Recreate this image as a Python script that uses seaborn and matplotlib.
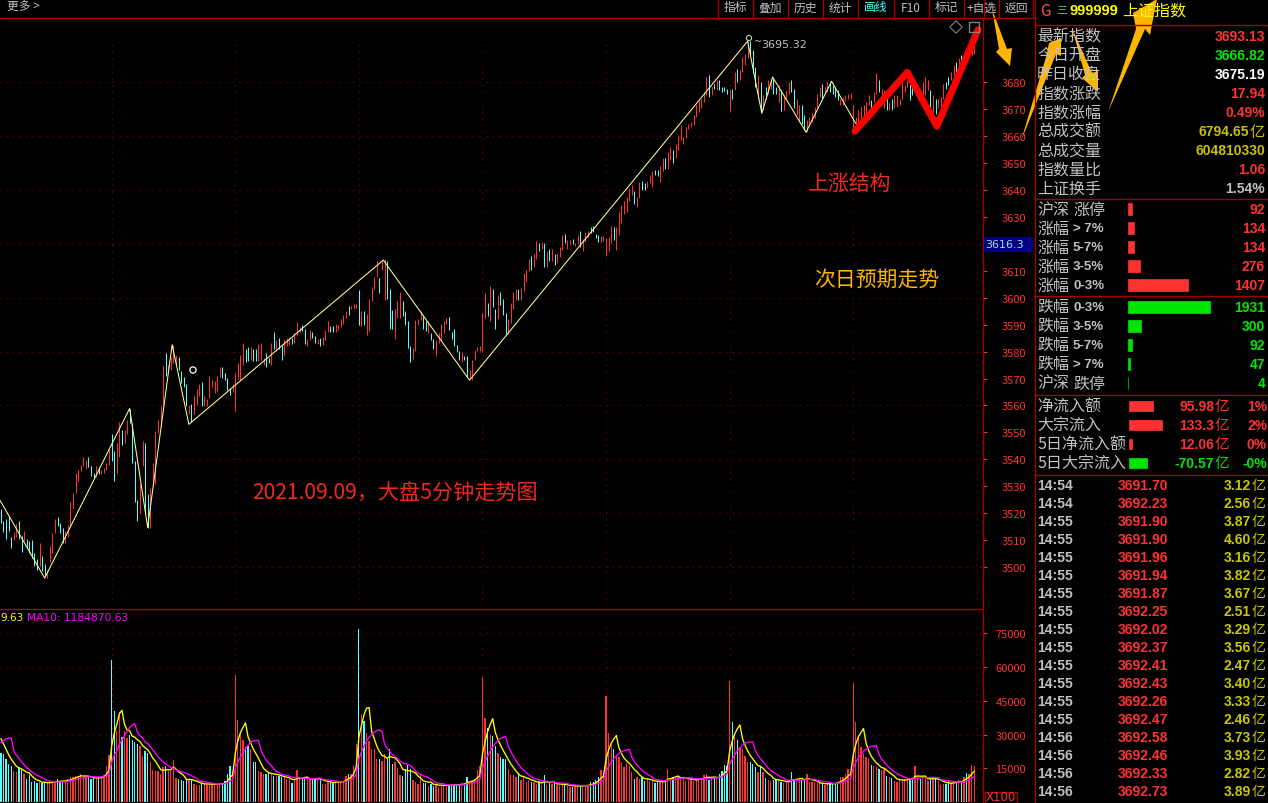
import numpy as np
import pandas as pd
import matplotlib
matplotlib.use("Agg")
import matplotlib.pyplot as plt
from matplotlib.patches import Polygon, Rectangle
import seaborn as sns

# 5 minute candles, ten per row
candle_low = [
    3516.5, 3513, 3510.6, 3513.4, 3507, 3510, 3511, 3510.3, 3505.6, 3509.7,
    3507.2, 3505.4, 3503.5, 3500.4, 3499, 3500.4, 3498.6, 3496.7, 3496, 3501.7,
    3505.4, 3512.5, 3515.3, 3512.5, 3509, 3509, 3511, 3515.3, 3522, 3527.4,
    3532, 3535.6, 3537.7, 3536.6, 3537.2, 3533.8, 3533.2, 3533.5, 3534.4, 3534.4,
    3535, 3536, 3538, 3539.3, 3532, 3534.8, 3541, 3545.5, 3546, 3549.5,
    3553.5, 3538.7, 3524, 3517, 3520, 3537.7, 3519.6, 3514.6, 3514.6, 3530,
    3530.7, 3549.9, 3552, 3559.7, 3570.8, 3573, 3573.3, 3575.8, 3575, 3573,
    3568.4, 3567, 3559.7, 3557, 3553.8, 3557, 3560.3, 3563.4, 3559.7, 3559.7,
    3559.7, 3562.8, 3567, 3564.6, 3565.3, 3570.6, 3570.2, 3569.6, 3565.9, 3564,
    3565, 3557.9, 3569.7, 3569.4, 3575.2, 3576.2, 3576.4, 3577, 3576.4, 3576.4,
    3576.4, 3577, 3575.2, 3574.3, 3575.8, 3575.2, 3580.8, 3580.1, 3580.8, 3576.8,
    3578.9, 3582, 3582.6, 3583, 3583.2, 3586, 3587.2, 3587.6, 3582.9, 3582.2,
    3584.2, 3585.1, 3583.2, 3583, 3582.2, 3582.6, 3584.2, 3587.2, 3587.2, 3587.2,
    3587.2, 3588.2, 3589.2, 3590.4, 3592.5, 3593.7, 3595.8, 3595.8, 3596.2, 3590,
    3589.7, 3590, 3586.3, 3587.6, 3598.7, 3603.2, 3607.7, 3601.8, 3610.4, 3599.3,
    3599.5, 3588.5, 3588.5, 3584.8, 3592.5, 3592.5, 3593.1, 3590, 3581.4, 3576,
    3577.4, 3580.1, 3590, 3591.9, 3588.4, 3587.6, 3587, 3584.2, 3580.8, 3578.3,
    3583.2, 3584.4, 3587, 3590.4, 3587.9, 3584.8, 3582, 3579.7, 3576.8, 3576,
    3577, 3570.6, 3569.9, 3569.6, 3577, 3580.1, 3580.4, 3580.1, 3592.5, 3593.3,
    3591.2, 3596.5, 3588.4, 3592.2, 3597.4, 3593.7, 3586.7, 3586.7, 3590.6, 3595.8,
    3599.3, 3599.3, 3599.3, 3602.7, 3606.3, 3610, 3610.4, 3611.6, 3614.3, 3617.2,
    3618.1, 3611.6, 3611.6, 3613.8, 3613.8, 3612.2, 3612.8, 3615, 3617.8, 3620.2,
    3618.1, 3620, 3620, 3619.3, 3620, 3619, 3617.2, 3620.9, 3622.7, 3624.2,
    3624.6, 3622.1, 3620.9, 3620.9, 3621.1, 3615.5, 3617.2, 3620.5, 3621.5, 3617.8,
    3623.3, 3627.6, 3631.1, 3632, 3636, 3638.1, 3634.8, 3633.8, 3636.9, 3640,
    3640, 3640.6, 3642.5, 3641.2, 3645.5, 3645.2, 3643, 3647, 3648, 3648,
    3651, 3650, 3652, 3655, 3658.6, 3657, 3659.2, 3662.5, 3663.3, 3664.1,
    3667, 3669, 3670.3, 3672.8, 3675.2, 3674.6, 3675.2, 3677.5, 3677.3, 3677.3,
    3676.5, 3676.7, 3675.8, 3669.3, 3674, 3677.1, 3680.2, 3681, 3683.9, 3686.3,
    3689.2, 3690, 3683.3, 3678.3, 3674, 3669, 3669.7, 3674, 3675.8, 3677.7,
    3675.8, 3675.8, 3672.8, 3669.4, 3669.7, 3673.4, 3675.8, 3676.5, 3670.3, 3667.8,
    3665.3, 3664.7, 3662.3, 3661.6, 3664, 3665.3, 3666.6, 3670.3, 3674.6, 3673.7,
    3675.8, 3676.5, 3676.5, 3675.8, 3674.6, 3673.4, 3671.5, 3671.5, 3673.1, 3674,
    3674, 3661, 3662.9, 3664.1, 3666, 3667, 3668.4, 3671.5, 3670.3, 3672.8,
    3675.8, 3676.5, 3672.8, 3670.3, 3669.7, 3669.7, 3669.7, 3670.3, 3670.9, 3671.5,
    3674, 3676.5, 3678.3, 3673.4, 3675.2, 3677.7, 3675.2, 3673.4, 3674, 3675.2,
    3677, 3670.9, 3667.8, 3668.4, 3670.3, 3670.9, 3674, 3677.7, 3679, 3680.8,
    3682.6, 3683.9, 3685, 3686, 3687, 3688.5, 3689.5, 3690, 3690.5,
]
candle_high = [
    3521.4, 3517, 3518, 3519, 3511, 3513, 3516, 3517, 3511.6, 3513.4,
    3510.3, 3509.7, 3510, 3505.4, 3503, 3509, 3504, 3501, 3499, 3508,
    3512.8, 3518, 3518.6, 3516.3, 3514.4, 3513.4, 3515.5, 3524, 3527.4, 3535,
    3535.9, 3538, 3541, 3539.7, 3541, 3537.7, 3535, 3537.7, 3537, 3536,
    3536.9, 3538.5, 3543.7, 3549.6, 3543, 3545.9, 3554, 3551, 3551, 3554.8,
    3558.7, 3553.5, 3539.3, 3525, 3530.7, 3546.7, 3546, 3527, 3529.5, 3538.7,
    3550.4, 3554.8, 3559.7, 3574.8, 3579.5, 3575, 3578, 3582.5, 3578.8, 3578,
    3572.7, 3570.4, 3568, 3560.3, 3560.7, 3563.7, 3566, 3568, 3568.7, 3563.5,
    3562.5, 3570.8, 3569.6, 3569, 3570.8, 3574.3, 3574.3, 3572, 3570.2, 3566.5,
    3568, 3572, 3575.8, 3578.9, 3583.2, 3581.1, 3581.8, 3581.8, 3580.8, 3580.8,
    3582.9, 3583.2, 3577.7, 3579.5, 3577.7, 3583.2, 3587.2, 3584.5, 3585.1, 3582.6,
    3584.5, 3585.1, 3585.5, 3585.1, 3587, 3590.9, 3589.2, 3590, 3588.4, 3584.7,
    3588.2, 3587.2, 3585.7, 3584.7, 3585.1, 3585.5, 3587.9, 3591.5, 3589.7, 3589.7,
    3590.4, 3590, 3592.1, 3593.5, 3595.2, 3596.8, 3596.8, 3597.7, 3597.8, 3603,
    3595, 3595.2, 3594.1, 3599.5, 3604, 3607.7, 3613.5, 3607.3, 3613.8, 3614.5,
    3613.5, 3603.2, 3595.3, 3595.8, 3598.7, 3602, 3598.7, 3595, 3591.5, 3582.2,
    3581.4, 3591.9, 3592.1, 3595, 3593.1, 3591.5, 3591.3, 3587, 3584.7, 3584.5,
    3587, 3590.4, 3591.5, 3592.5, 3593, 3587.3, 3588.4, 3582.6, 3580.1, 3579.7,
    3578.5, 3578.5, 3573.3, 3577, 3580.7, 3581.7, 3582, 3594.3, 3601.7, 3598,
    3604.2, 3603.2, 3595.8, 3601.1, 3602.3, 3599.5, 3594.3, 3592.2, 3598, 3602.3,
    3603.3, 3603.3, 3603.6, 3609.1, 3610.4, 3614.4, 3615.5, 3616.3, 3621, 3620.2,
    3620.6, 3620.5, 3617.4, 3618, 3618.3, 3616.3, 3616.8, 3618.8, 3623.3, 3623.7,
    3621.5, 3621.5, 3621.9, 3620.2, 3623.3, 3624.8, 3622, 3624.6, 3624.8, 3626.2,
    3626.7, 3623.7, 3623.3, 3623, 3623.1, 3622.1, 3622.7, 3626.7, 3626.2, 3626.4,
    3632, 3634.4, 3635.9, 3637.3, 3640.6, 3641.8, 3639.7, 3637.3, 3643.1, 3643.3,
    3642.8, 3643.3, 3645.5, 3647.2, 3647.4, 3647.3, 3649, 3652, 3652, 3654,
    3656, 3655, 3657, 3660, 3664.1, 3659.8, 3663.5, 3664.7, 3665.3, 3667.8,
    3671.5, 3673.1, 3674, 3676.5, 3682, 3682.6, 3678.3, 3679.5, 3680.8, 3680.8,
    3678.3, 3678.3, 3677.7, 3677, 3677.7, 3683.9, 3685.1, 3684.5, 3689.4, 3690.4,
    3694.6, 3695.3, 3691.9, 3685.7, 3682.6, 3680.2, 3675.2, 3678.3, 3680.8, 3681.4,
    3681.4, 3678.3, 3678.9, 3677, 3675.2, 3677.3, 3680.2, 3681, 3677.7, 3674,
    3671.5, 3671.5, 3667.8, 3666, 3667.2, 3668.7, 3670.9, 3675.8, 3678.3, 3679.3,
    3678.3, 3680.2, 3680.2, 3679, 3678.3, 3677, 3674, 3674.6, 3675.2, 3675.8,
    3676.1, 3671.5, 3667.2, 3669.7, 3670.7, 3671.5, 3672.8, 3675.2, 3673.4, 3676.5,
    3683.3, 3680.8, 3677.7, 3677, 3675.2, 3672.8, 3674, 3675.2, 3675.2, 3674,
    3680.8, 3678.9, 3680.8, 3679.5, 3678.9, 3680.8, 3678.9, 3677.7, 3680.2, 3682,
    3680.8, 3677, 3675.2, 3674, 3674, 3674.6, 3679.5, 3680.1, 3682, 3683.9,
    3686.3, 3687.5, 3689, 3690, 3691, 3692, 3693, 3693.3, 3693.6,
]
# R rises, C falls, ten per block
candle_dir = (
    "CCCCCRRCCR" "CCCCCRCCRR" "RRCCCRRRRR" "RRRRCCCRCR"
    "RRRCCRRCRR" "CCCCRRCCRR" "RRRRCRRRRC" "CCCRCRRRCR"
    "RRRRRRCCCC" "RRRRRCCRCC" "RRRCCRCRCC" "RRRCRRRCCR"
    "RCCRCRRRCC" "RRRRRCRRRC" "RCRRRRRCRR" "CCCRRRCCCC"
    "RRRRCCRCCR" "RRRRCCCCCR" "CCRRRRRRRC" "RCCRCCCRRR"
    "RCRRRRCRRC" "RCRCRCRRRC" "RRCRRCRRRC" "CCCRRRRRCR"
    "RRRRRRCRRC" "CRRRCCRRCR" "RCRRRRRRRR" "RRRRRCRCRC"
    "CCCRCRCRRR" "RCCCRCRCRR" "CCRCRRRCCR" "RCCRRRRRRC"
    "RRCCCCRRRR" "RRRRRRRRCR" "RCRRCRCRRR" "RRRCCRRCRR"
    "RCRCRRRCCR" "RCRCRCRRR"
)
volume = [
    22000, 21300, 19100, 16900, 16100, 13900, 13500, 15400, 14700, 12400,
    10200, 12000, 8700, 9500, 8400, 8700, 8400, 9000, 8300, 8700,
    9000, 9000, 10200, 9000, 9000, 9500, 10200, 11300, 11000, 11700,
    11700, 12400, 11000, 11000, 11400, 10200, 10500, 10500, 11000, 11700,
    12000, 16100, 20800, 63100, 40600, 31700, 39800, 28700, 31700, 28400,
    29900, 27500, 26500, 25800, 25000, 20600, 22800, 22000, 17600, 14400,
    13900, 13900, 12400, 15400, 16100, 13900, 13900, 18600, 10600, 10200,
    9900, 9500, 10200, 10200, 10200, 8000, 7700, 7700, 8400, 8400,
    7700, 7500, 8000, 7700, 8000, 8400, 8300, 9500, 12400, 16100,
    13900, 56400, 36600, 31000, 27700, 24300, 25000, 23500, 17600, 17600,
    13900, 13200, 12400, 12400, 13200, 12400, 11700, 11700, 11400, 11000,
    11000, 10200, 10200, 8300, 9500, 14200, 10200, 10200, 10500, 10200,
    10200, 10500, 10200, 10500, 10200, 8000, 8000, 9500, 9000, 8700,
    8700, 9000, 9000, 9500, 11700, 12400, 12400, 16100, 25800, 76900,
    39100, 36100, 30600, 27200, 23500, 23500, 19100, 19100, 18400, 21300,
    19100, 23500, 16900, 17600, 15000, 12100, 11400, 14700, 16600, 14700,
    9800, 8700, 8000, 12000, 8400, 8400, 7300, 8000, 7300, 8000,
    6800, 7300, 7300, 8000, 7300, 7700, 7700, 7700, 7700, 8300,
    8400, 11000, 9000, 9500, 10200, 14200, 16100, 55700, 37300, 32700,
    30200, 29500, 25000, 21800, 20100, 19100, 19100, 14700, 12000, 12000,
    11300, 12400, 9800, 11300, 9000, 9900, 9000, 8700, 8000, 9000,
    7500, 12000, 7700, 8400, 8000, 8300, 7700, 7700, 7700, 7700,
    7300, 6800, 6800, 7300, 7300, 7300, 7100, 7300, 7700, 8700,
    9000, 9900, 11000, 14200, 12900, 46900, 30700, 25800, 23500, 20900,
    19900, 17600, 15700, 17300, 15800, 13200, 10200, 11000, 10200, 11000,
    9300, 10200, 9300, 9300, 8400, 9300, 9300, 8700, 9200, 14700,
    9800, 11300, 10700, 11300, 10200, 11000, 9500, 9900, 10200, 9500,
    10200, 10200, 10200, 12100, 12400, 9900, 10200, 11000, 11000, 12400,
    13600, 16400, 15800, 53900, 35400, 30200, 27500, 24300, 23500, 20600,
    17600, 17600, 16900, 15400, 13200, 16100, 13200, 10700, 9800, 9500,
    9800, 10200, 9900, 8700, 8400, 8700, 9000, 13200, 9900, 9500,
    10200, 9900, 9500, 12400, 9000, 8700, 8400, 8300, 8400, 8000,
    7500, 8300, 8300, 8300, 8400, 9000, 11000, 11000, 12400, 14700,
    13200, 52900, 35400, 28700, 24300, 22000, 19900, 19400, 16400, 15800,
    15400, 14700, 14400, 14700, 11400, 11000, 10500, 9500, 8700, 10200,
    9900, 10200, 10500, 10200, 10200, 15800, 11000, 10200, 10200, 10500,
    9500, 11000, 10500, 10200, 9500, 7700, 8000, 8000, 9500, 8400,
    8400, 9000, 9900, 9000, 11000, 12900, 12400, 16400, 15800,
]
# bars just left of the visible window, needed by the moving averages
volume_before = [12000, 12000, 13000, 16000, 70000, 33000, 31000, 29000, 26000]
day_starts = [43, 91, 139, 187, 235, 283, 331, 379]

zigzag_idx = [-0.35, 17, 50, 57, 66.5, 73, 148.5, 182, 290, 295.5, 299.7, 312.7, 322.6, 332]
zigzag_price = [3524.8, 3495.9, 3558.9, 3514.7, 3582.6, 3553, 3614, 3569.4, 3695.3, 3668.5,
                3682, 3661.5, 3680.4, 3664.7]
forecast_idx = [331.7, 352, 363.5, 379.5]
forecast_price = [3661.9, 3683.7, 3663.7, 3699.6]

price_ticks = list(range(3500, 3690, 10))
# 3620 sits under the price tag in the terminal
price_tick_labels = ["" if p == 3620 else str(p) for p in price_ticks]
volume_ticks = [15000, 30000, 45000, 60000, 75000]

toolbar = ["指标", "叠加", "历史", "统计", "画线", "F10", "标记", "+自选", "返回"]

quote_labels = ["最新指数", "今日开盘", "昨日收盘", "指数涨跌", "指数涨幅", "总成交额", "总成交量", "指数量比", "上证换手"]
quote_values = ["3693.13", "3666.82", "3675.19", "17.94", "0.49%", "6794.65", "604810330", "1.06", "1.54%"]
quote_colors = ["#ff3232", "#00e600", "#ffffff", "#ff3232", "#ff3232", "#c8c000", "#c8c000", "#ff3232", "#c0c0c0"]

rise_labels = ["沪深 涨停", "涨幅 > 7%", "涨幅 5-7%", "涨幅 3-5%", "涨幅 0-3%"]
rise_counts = [92, 134, 134, 276, 1407]
fall_labels = ["跌幅 0-3%", "跌幅 3-5%", "跌幅 5-7%", "跌幅 > 7%", "沪深 跌停"]
fall_counts = [1931, 300, 92, 47, 4]

flow_labels = ["净流入额", "大宗流入", "5日净流入额", "5日大宗流入"]
flow_values = [95.98, 133.3, 12.06, -70.57]
flow_text = ["95.98", "133.3", "12.06", "-70.57"]
flow_pct = ["1%", "2%", "0%", "-0%"]

tick_times = ["14:54", "14:54", "14:55", "14:55", "14:55", "14:55", "14:55", "14:55", "14:55",
              "14:55", "14:55", "14:55", "14:55", "14:55", "14:56", "14:56", "14:56", "14:56"]
tick_prices = ["3691.70", "3692.23", "3691.90", "3691.90", "3691.96", "3691.94", "3691.87", "3692.25", "3692.02",
               "3692.37", "3692.41", "3692.43", "3692.26", "3692.47", "3692.58", "3692.46", "3692.33", "3692.73"]
tick_amounts = ["3.12", "2.56", "3.87", "4.60", "3.16", "3.82", "3.67", "2.51", "3.29",
                "3.56", "2.47", "3.40", "3.33", "2.46", "3.73", "3.93", "2.82", "3.89"]

lengths = (len(candle_low), len(candle_high), len(candle_dir), len(volume))
assert len(set(lengths)) == 1, lengths

RED = "#ff3232"
CYAN = "#54ffff"
GREEN = "#00e600"
RULE = "#a00000"
GRID = "#8a0000"
GRAY = "#c0c0c0"
ORANGE = "#ffb400"
CJK = ["Noto Sans CJK SC", "DejaVu Sans"]
BOLD = "Liberation Sans"

W, H = 1268, 804
sns.set_theme(style="dark", rc={"axes.facecolor": "black", "figure.facecolor": "black"})
plt.rcParams["font.family"] = CJK


def px_axes(left, top, right, bottom, **kw):
    return fig.add_axes([left / W, 1 - bottom / H, (right - left) / W, (bottom - top) / H], **kw)


df = pd.DataFrame({"idx": range(len(volume)), "low": candle_low, "high": candle_high,
                   "dir": list(candle_dir), "volume": volume})
full = pd.Series(volume_before + volume)
df["ma5"] = full.rolling(5).mean().iloc[len(volume_before):].values
df["ma10"] = full.rolling(10).mean().iloc[len(volume_before):].values
palette = {"R": RED, "C": CYAN}

fig = plt.figure(figsize=(W / 100, H / 100), dpi=100)

# price panel
ax = px_axes(0, 19, 983, 609)
ax.hlines(price_ticks[::2], -1, 382, color=GRID, lw=0.8, ls=(0, (1, 5)), zorder=1)
ax.vlines(day_starts, 3488, 3696, color=GRID, lw=0.8, ls=(0, (1, 5)), zorder=1)
for key, part in df.groupby("dir"):
    lines = ax.vlines(part["idx"], part["low"], part["high"], color=palette[key], lw=0.72, zorder=2)
    lines.set_snap(True)
sns.lineplot(x=zigzag_idx, y=zigzag_price, sort=False, estimator=None, color="#ffff8c", lw=0.75, ax=ax, zorder=3)
sns.lineplot(x=forecast_idx, y=forecast_price, sort=False, estimator=None, color="#ff0000", lw=5, ax=ax,
             zorder=4, solid_capstyle="round", solid_joinstyle="round")
ax.set_xlim(-0.35, 381.4)
ax.set_ylim(3484.8, 3703.9)
ax.set_xticks([])
ax.yaxis.tick_right()
ax.set_yticks(price_ticks)
ax.set_yticklabels(price_tick_labels)
ax.tick_params(axis="y", colors=RED, labelsize=8, length=3, width=0.8, pad=10.5, right=True)
ax.set(xlabel="", ylabel="")

# volume panel
ax2 = px_axes(0, 610, 983, 804)
ax2.hlines(volume_ticks, -1, 382, color=GRID, lw=0.8, ls=(0, (1, 5)), zorder=0)
ax2.vlines(day_starts, 0, 78400, color=GRID, lw=0.8, ls=(0, (1, 5)), zorder=0)
sns.barplot(data=df, x="idx", y="volume", hue="dir", palette=palette, native_scale=True, dodge=False,
            width=0.5, saturation=1, legend=False, linewidth=0, antialiased=False, ax=ax2, zorder=2)
sns.lineplot(data=df, x="idx", y="ma5", color="#ffff00", lw=0.95, ax=ax2, zorder=3)
sns.lineplot(data=df, x="idx", y="ma10", color="#ff00ff", lw=0.95, ax=ax2, zorder=4)
ax2.set_xlim(-0.35, 381.4)
ax2.set_ylim(-450, 85800)
ax2.set_xticks([])
ax2.yaxis.tick_right()
ax2.set_yticks(volume_ticks)
ax2.tick_params(axis="y", colors=RED, labelsize=8, length=3, width=0.8, pad=6, right=True)
ax2.set(xlabel="", ylabel="")

for a in (ax, ax2):
    for side in ("top", "left", "bottom"):
        a.spines[side].set_visible(False)
    a.spines["right"].set_color(RULE)
    a.spines["right"].set_linewidth(1)


# breadth and flow bars of the side panel
def side_bars(labels, values, color, left, top, right, bottom, scale, height):
    b = px_axes(left, top, right, bottom)
    sns.barplot(x=values, y=labels, color=color, saturation=1, orient="h", width=height,
                linewidth=0.5, edgecolor=color, ax=b)
    b.set_xlim(0, (right - left) / scale)
    b.axis("off")
    b.patch.set_alpha(0)


side_bars(rise_labels, rise_counts, RED, 1128, 200.5, 1250, 295.5, 0.0426, 0.66)
side_bars(fall_labels, fall_counts, GREEN, 1128, 298.5, 1250, 393.5, 0.0426, 0.66)
side_bars(flow_labels[:3], [abs(v) for v in flow_values[:3]], RED, 1129, 397.5, 1180, 454.5, 0.25, 0.55)
side_bars(flow_labels[3:], [abs(v) for v in flow_values[3:]], GREEN, 1129, 454.5, 1180, 473.5, 0.25, 0.55)

# overlay in pixel coordinates for the terminal frame and the hand drawn notes
ov = fig.add_axes([0, 0, 1, 1], zorder=10)
ov.set_xlim(0, W)
ov.set_ylim(H, 0)
ov.axis("off")
ov.patch.set_alpha(0)


def label(x, y, s, color=GRAY, size=11.5, ha="left", bold=False, **kw):
    family = BOLD if bold else CJK
    ov.text(x, y, s, color=color, fontsize=size, ha=ha, va="center", family=family,
            weight="bold" if bold else "normal", **kw)


def split_label(y, name):
    # CJK head and the tail after it are sized apart, as in the terminal font
    head, tail = name.split(" ", 1)
    label(1037, y, head)
    if tail.isascii() or tail[0] == ">":
        label(1073, y, tail, bold=True, size=9.5)
    else:
        label(1073, y, tail)


ov.plot([0, 1034], [18.5, 18.5], color=RULE, lw=1)
ov.plot([0, 983], [609.5, 609.5], color=RULE, lw=1)
ov.plot([983.5, 983.5], [0, 19], color=RULE, lw=1)
ov.plot([1034.5, 1034.5], [0, 804], color=RULE, lw=1)
for y in (26, 200, 297, 396, 476):
    ov.plot([1034, W], [y, y], color=RULE, lw=1)

label(7, 7, "更多 >", size=8.5)
for k, item in enumerate(toolbar):
    sep = 718 + k * 35.1
    ov.plot([sep, sep], [0, 18], color=RULE, lw=1)
    label(sep + 17.5, 8, item, size=8.5, ha="center", color=CYAN if item == "画线" else GRAY)
ov.plot([1033, 1033], [0, 18], color=RULE, lw=1)

# header and quote block
label(1040, 11, "G", color="#ff5050", size=11)
label(1056, 11, "三", color="#70c070", size=8)
label(1070, 11, "999999", color="#ffff00", bold=True, size=10.5)
label(1122, 11, "上证指数", color="#ffff00", size=11.5)
quote_y = [37, 56, 75, 94, 113, 132, 151, 170, 189]
for y, name, value, col in zip(quote_y, quote_labels, quote_values, quote_colors):
    label(1037, y, name)
    if name == "总成交额":
        label(1249, y, value, color=col, ha="right", bold=True, size=10)
        label(1265, y, "亿", color=col, ha="right", size=11)
    else:
        label(1265, y, value, color=col, ha="right", bold=True, size=10)

rise_y = [210, 229, 248, 267, 286]
fall_y = [308, 327, 346, 365, 384]
for y, name, value in zip(rise_y, rise_labels, rise_counts):
    split_label(y, name)
    label(1265, y, str(value), color=RED, ha="right", bold=True, size=10)
for y, name, value in zip(fall_y, fall_labels, fall_counts):
    split_label(y, name)
    label(1265, y, str(value), color=GREEN, ha="right", bold=True, size=10)

flow_y = [407, 426, 445, 464]
for y, name, value, text, pct in zip(flow_y, flow_labels, flow_values, flow_text, flow_pct):
    col = RED if value > 0 else GREEN
    label(1037, y, name)
    label(1214, y, text, color=col, ha="right", bold=True, size=10)
    label(1229, y, "亿", color=col, ha="right", size=10.5)
    label(1267, y, pct, color=col, ha="right", bold=True, size=10)

for k, (t, p, amt) in enumerate(zip(tick_times, tick_prices, tick_amounts)):
    y = 486 + 18 * k
    label(1037, y, t, bold=True, size=10)
    label(1168, y, p, color=RED, ha="right", bold=True, size=10)
    label(1251, y, amt, color="#c8c800", ha="right", bold=True, size=10)
    label(1265, y, "亿", color="#c8c800", ha="right", size=10)

# price tag and small chart furniture
ov.add_patch(Rectangle((984, 238), 49, 15, fc="#000080", ec="none"))
ov.text(985, 245.5, "3616.3", color="#a8dcdc", fontsize=8, va="center", family="DejaVu Sans")
ov.add_patch(Rectangle((984.5, 792.5), 32, 12, fc="none", ec=RULE, lw=1))
ov.text(986, 798, "X100", color=RED, fontsize=8.5, va="center", family="DejaVu Sans")
ov.text(0, 618, "9.63", color="#ffff00", fontsize=7.5, va="center", family="DejaVu Sans")
ov.text(27, 618, "MA10: 1184870.63", color="#ff00ff", fontsize=7.7, va="center", family="DejaVu Sans")
ov.text(761, 45, "3695.32", color=GRAY, fontsize=8, va="center", family="DejaVu Sans")
ov.text(754, 42, "~", color=GRAY, fontsize=7, va="center", family="DejaVu Sans")
ov.scatter([749], [39], s=14, marker="o", facecolors="none", edgecolors="#d0d0a0", lw=0.8)
ov.scatter([193], [371], s=20, marker="o", facecolors="none", edgecolors="white", lw=0.9)
ov.scatter([956], [28], s=40, marker="D", facecolors="none", edgecolors="#808080", lw=0.8)
ov.scatter([974], [28], s=60, marker="s", facecolors="none", edgecolors="#808080", lw=1.0)

# notes
label(808, 183.5, "上涨结构", color="#f0281e", size=15)
label(814, 280, "次日预期走势", color=ORANGE, size=15)
label(252, 494, "2021.09.09，大盘5分钟走势图", color="#f0281e", size=15.2)

arrows = [
    [(1021, 142), (1046, 58), (1049, 44), (1061, 39), (1061, 57), (1056, 55)],
    [(1072, 29), (1092, 74), (1098, 72), (1098, 93), (1082, 79), (1085, 76)],
    [(1108, 113), (1136, 30), (1133, 14), (1157, 0), (1150, 36), (1145, 30)],
    [(992, 10), (1007, 50), (1012, 49), (1010, 67), (996, 53), (999, 50)],
]
for pts in arrows:
    ov.add_patch(Polygon(pts, closed=True, fc=ORANGE, ec="none"))

fig.savefig("out.png", dpi=100, facecolor="black")
